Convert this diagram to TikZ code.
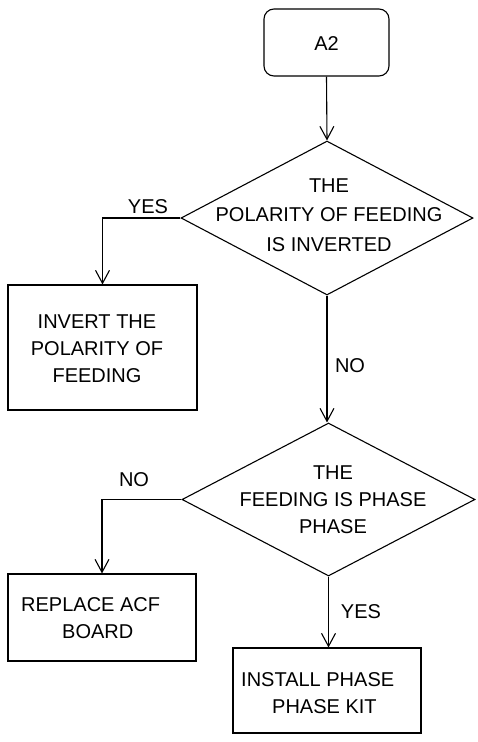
\documentclass[tikz,border=0pt]{standalone}
\usepackage{fontspec}
\setmainfont{Liberation Sans}
\usetikzlibrary{arrows.meta,shapes.geometric}
\begin{document}
\begin{tikzpicture}[x=1pt,y=-1pt,
  lbl/.style={font=\fontsize{20}{24}\selectfont, inner sep=0pt},
  txt/.style={font=\fontsize{20}{27}\selectfont, inner sep=0pt, align=center},
  txtl/.style={font=\fontsize{20}{27}\selectfont, inner sep=0pt, align=left},
  startbox/.style={draw, line width=1.1pt, rounded corners=10pt, minimum width=125pt, minimum height=67pt, inner sep=0pt},
  procbox/.style={draw, line width=1.1pt, inner sep=0pt},
  decision/.style={draw, line width=1.1pt, diamond, inner sep=0pt, minimum width=292pt, minimum height=154pt},
  conn/.style={line width=1.1pt, -{Straight Barb[length=13pt,width=14pt,line width=1.1pt]}}
]
\useasboundingbox (0,0) rectangle (477,742);
% start
\node[startbox] (a2) at (326.5,42.5) {};
\node[lbl] (a2t) at (326.5,44) {A2};
% decision 1
\node[decision] (d1) at (327,218) {};
\node[txt, font=\fontsize{20}{29.5}\selectfont] (d1t) at (329,215) {THE\\POLARITY OF FEEDING\\IS INVERTED};
% box 1
\node[procbox, minimum width=189pt, minimum height=125pt] (b1) at (102.5,347.5) {};
\node[txt] (b1t) at (97,349) {INVERT THE\\POLARITY OF\\FEEDING};
% decision 2
\node[decision, minimum width=293pt, minimum height=153pt] (d2) at (328.5,499.5) {};
\node[txt] (d2t) at (333,500) {THE\\FEEDING IS PHASE\\PHASE};
% box 2
\node[procbox, minimum width=188pt, minimum height=87pt] (b2) at (102,617.5) {};
\node[txtl, anchor=north west] (b2t) at (21,597) {REPLACE ACF\\\hspace*{41pt}BOARD};
% box 3
\node[procbox, minimum width=188pt, minimum height=85pt] (b3) at (327,690.5) {};
\node[txtl, anchor=north west] (b3t) at (241,672) {INSTALL PHASE\\\hspace*{31pt}PHASE KIT};
% labels
\node[lbl] (yes1) at (148,207) {YES};
\node[lbl] (no1) at (350,366) {NO};
\node[lbl] (no2) at (134,480) {NO};
\node[lbl] (yes2) at (361,612) {YES};
% connectors
\draw[conn] (a2.south) -- (d1.north);
\draw[conn] (d1.west) -| (b1.north);
\draw[conn] (d1.south) -- (d1.south |- d2.north);
\draw[conn] (d2.west) -| (b2.north);
\draw[conn] (d2.south) -- (d2.south |- b3.north);
\end{tikzpicture}
\end{document}
